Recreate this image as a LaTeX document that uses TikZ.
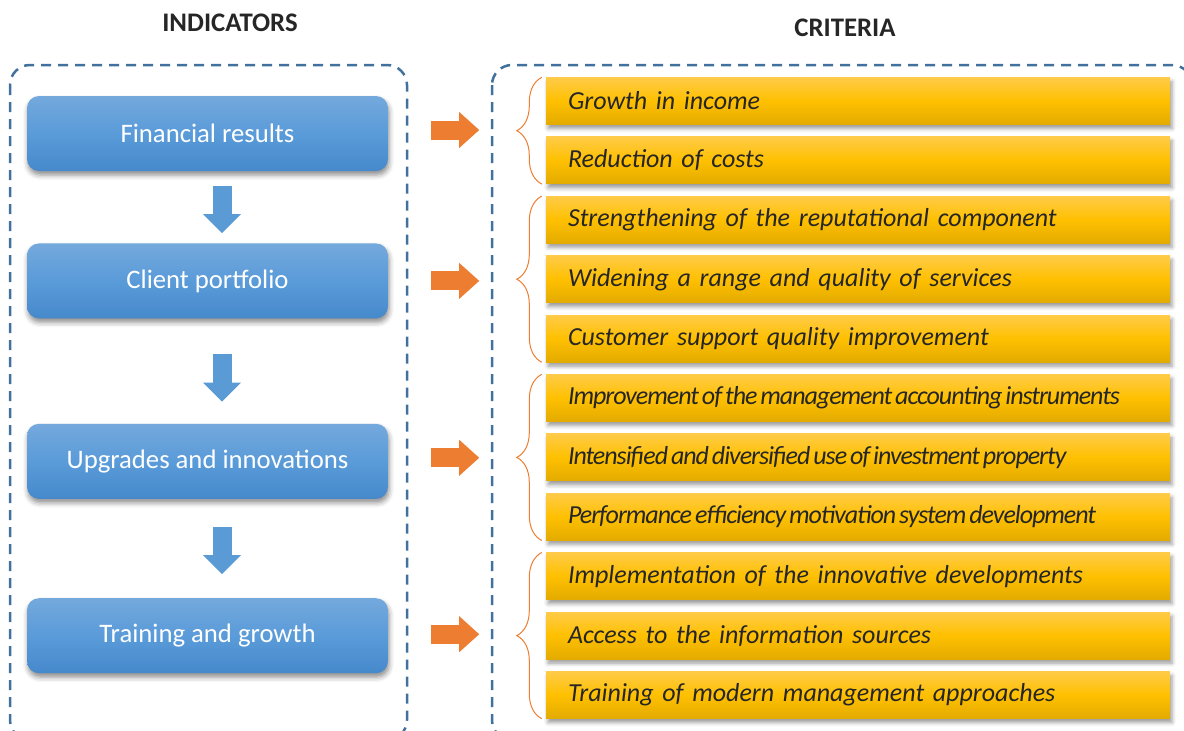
\documentclass[tikz,border=0pt]{standalone}
\usepackage{fontspec}
\setmainfont{Carlito}
\usetikzlibrary{positioning,arrows.meta,shadows.blur,decorations.pathreplacing}

\definecolor{dashblue}{HTML}{41719C}
\definecolor{boxtop}{HTML}{74A9DC}
\definecolor{boxmid}{HTML}{5A9BD9}
\definecolor{boxbot}{HTML}{4689CB}
\definecolor{arrblue}{HTML}{5B9BD5}
\definecolor{arrorange}{HTML}{ED7D31}
\definecolor{ytop}{HTML}{FFCB48}
\definecolor{ymid}{HTML}{FFC000}
\definecolor{ybot}{HTML}{E3AB00}
\definecolor{darktext}{HTML}{262626}

\newcommand\tight{\addfontfeature{LetterSpace=-4}\spaceskip=0.6\fontdimen2\font\relax}

\tikzset{
  groupframe/.style = {draw=dashblue, line width=2.5pt, dash pattern=on 10pt off 7pt, rounded corners=20pt},
  heading/.style = {text=darktext, font=\fontsize{26.8}{32}\selectfont\bfseries},
  indicator/.style = {rectangle, rounded corners=12pt, minimum width=361pt, minimum height=75pt,
    top color=boxtop, bottom color=boxbot, middle color=boxmid, text=white,
    font=\fontsize{26.7}{32}\selectfont,
    blur shadow={shadow xshift=1pt, shadow yshift=-4pt, shadow blur radius=5pt, shadow opacity=45}},
  criterion/.style = {rectangle, minimum height=47pt, text width=580pt, inner xsep=22pt, inner ysep=0pt,
    align=left, top color=ytop, bottom color=ybot, middle color=ymid, text=darktext,
    font=\fontsize{26}{30}\selectfont\itshape,
    blur shadow={shadow xshift=2pt, shadow yshift=-4pt, shadow blur radius=4pt, shadow opacity=40}},
  flowdown/.style = {draw=arrblue, line width=19pt, -{Triangle[width=38pt,length=19pt,line width=0pt]}},
  flowright/.style = {draw=arrorange, line width=19pt, -{Triangle[width=36pt,length=20pt,line width=0pt]}},
  groupbrace/.style = {draw=arrorange, line width=1pt, decorate, decoration={brace, amplitude=25pt}}
}

\begin{document}
\begin{tikzpicture}[x=1pt, y=-1pt, node distance=12pt]
  \useasboundingbox (0,0) rectangle (1184,731);

  \node[heading] (ind) at (230,23) {INDICATORS};
  \node[heading] (crit) at (845,28) {CRITERIA};

  \draw[groupframe] (10,65) rectangle (407,740);
  \draw[groupframe] (492,65) rectangle (1192,740);

  \node[indicator] (fin) at (207.5,133.5) {Financial results};
  \node[indicator, below=72pt of fin] (cli) {Client portfolio};
  \node[indicator, below=105pt of cli] (upg) {Upgrades and innovations};
  \node[indicator, below=99pt of upg] (trn) {Training and growth};

  \draw[flowdown] ([xshift=14.5pt,yshift=-15pt]fin.south) -- ([xshift=14.5pt,yshift=10pt]cli.north);
  \draw[flowdown] ([xshift=14.5pt,yshift=-35pt]cli.south) -- ([xshift=14.5pt,yshift=22pt]upg.north);
  \draw[flowdown] ([xshift=14.5pt,yshift=-28pt]upg.south) -- ([xshift=14.5pt,yshift=24pt]trn.north);

  \node[criterion] (inc) at (858,101) {Growth in income};
  \node[criterion, below=of inc] (cost) {Reduction of costs};
  \node[criterion, below=of cost] (rep) {Strengthening of the reputational component};
  \node[criterion, below=of rep] (serv) {Widening a range and quality of services};
  \node[criterion, below=of serv] (supp) {Customer support quality improvement};
  \node[criterion, below=of supp] (acct) {\tight Improvement of the management accounting instruments};
  \node[criterion, below=of acct] (prop) {\tight Intensified and diversified use of investment property};
  \node[criterion, below=of prop] (motv) {\tight Performance efficiency motivation system development};
  \node[criterion, below=of motv] (dev) {Implementation of the innovative developments};
  \node[criterion, below=of dev] (info) {Access to the information sources};
  \node[criterion, below=of info] (appr) {Training of modern management approaches};

  \draw[groupbrace] ([xshift=-4pt]cost.south west) -- ([xshift=-4pt]inc.north west);
  \draw[groupbrace] ([xshift=-4pt]supp.south west) -- ([xshift=-4pt]rep.north west);
  \draw[groupbrace] ([xshift=-4pt]motv.south west) -- ([xshift=-4pt]acct.north west);
  \draw[groupbrace] ([xshift=-4pt]appr.south west) -- ([xshift=-4pt]dev.north west);

  \draw[flowright] ([xshift=43pt,yshift=3.5pt]fin.east) -- ([xshift=91pt,yshift=3.5pt]fin.east);
  \draw[flowright] ([xshift=43pt]cli.east) -- ([xshift=91pt]cli.east);
  \draw[flowright] ([xshift=43pt,yshift=3.5pt]upg.east) -- ([xshift=91pt,yshift=3.5pt]upg.east);
  \draw[flowright] ([xshift=43pt,yshift=1.5pt]trn.east) -- ([xshift=91pt,yshift=1.5pt]trn.east);
\end{tikzpicture}
\end{document}
